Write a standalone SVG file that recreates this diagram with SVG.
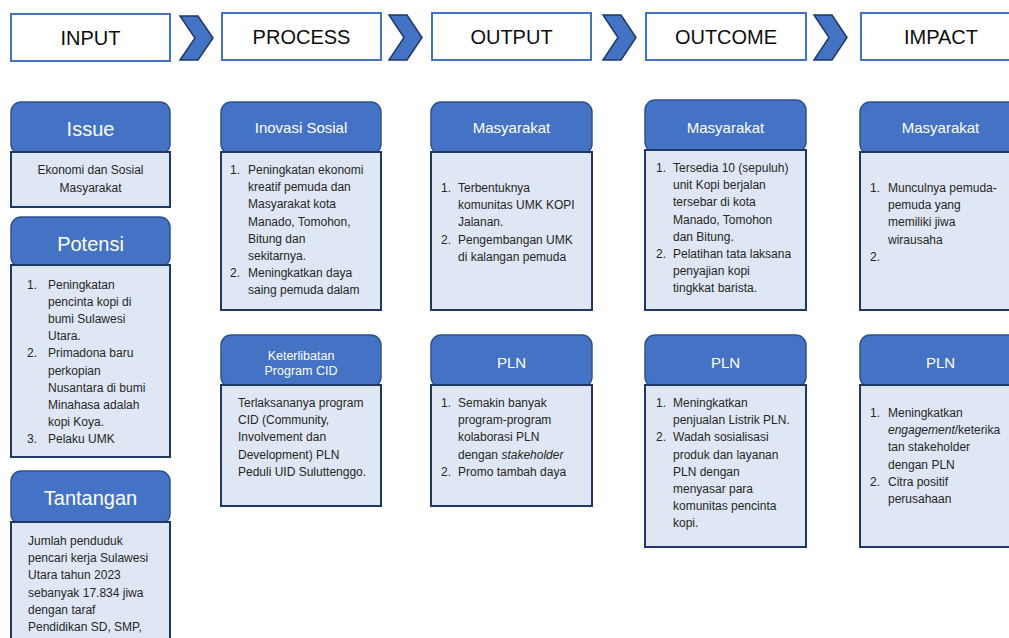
<svg xmlns="http://www.w3.org/2000/svg" width="1009" height="638" viewBox="0 0 1009 638">
<defs>
<style>
.hd{fill:#fff;stroke:#4472C4;stroke-width:2}
.hl{font-family:"Liberation Sans",Arial,sans-serif;font-size:20px;fill:#0d0d0d;text-anchor:middle}
.chev{fill:#4472C4;stroke:#203864;stroke-width:1.5;stroke-linejoin:miter}
.ch{fill:#4472C4;stroke:#2F528F;stroke-width:1.5}
.cb{fill:#DEE7F3;stroke:#1F3864;stroke-width:2}
.ht{font-family:"Liberation Sans",Arial,sans-serif;fill:#fff;text-anchor:middle}
.big{font-size:20px}
.mid{font-size:15px}
.sm{font-size:12.5px}
.t{font-family:"Liberation Sans",Arial,sans-serif;font-size:12px;fill:#262626}
.c{text-anchor:middle}
.i{font-style:italic}
</style>
</defs>
<rect width="1009" height="638" fill="#fff"/>

<g id="stage-input"><rect class="hd" x="11" y="14" width="159" height="47"/><text class="hl" x="90.5" y="45">INPUT</text></g>
<g id="stage-process"><rect class="hd" x="222" y="13" width="159" height="47"/><text class="hl" x="301.5" y="44">PROCESS</text></g>
<g id="stage-output"><rect class="hd" x="432" y="13" width="159" height="47"/><text class="hl" x="511.5" y="44">OUTPUT</text></g>
<g id="stage-outcome"><rect class="hd" x="646" y="13" width="160" height="47"/><text class="hl" x="726" y="44">OUTCOME</text></g>
<g id="stage-impact"><rect class="hd" x="861" y="13" width="160" height="47"/><text class="hl" x="941" y="44">IMPACT</text></g>

<g id="connectors">
<polygon class="chev" points="180,16 198,16 213,38 198,60 180,60 195,38"/>
<polygon class="chev" points="389,15 407,15 422,37.5 407,60 389,60 404,37.5"/>
<polygon class="chev" points="603,15 621,15 636,37.5 621,60 603,60 618,37.5"/>
<polygon class="chev" points="814,15 832,15 847,37.5 832,60 814,60 829,37.5"/>
</g>

<g id="issue">
<rect class="ch" x="11" y="102" width="159" height="52" rx="10"/>
<rect class="cb" x="11" y="152" width="159" height="55"/>
<text class="ht big" x="90.5" y="136">Issue</text>
<text class="t c"><tspan x="90.5" y="174">Ekonomi dan Sosial</tspan><tspan x="90.5" y="192">Masyarakat</tspan></text>
</g>

<g id="potensi">
<rect class="ch" x="11" y="217" width="159" height="50" rx="10"/>
<rect class="cb" x="11" y="265" width="159" height="192"/>
<text class="ht big" x="90.5" y="251">Potensi</text>
<text class="t"><tspan x="27" y="289">1.</tspan><tspan x="48" y="289">Peningkatan</tspan><tspan x="48" y="306.1">pencinta kopi di</tspan><tspan x="48" y="323.2">bumi Sulawesi</tspan><tspan x="48" y="340.3">Utara.</tspan><tspan x="27" y="357.4">2.</tspan><tspan x="48" y="357.4">Primadona baru</tspan><tspan x="48" y="374.5">perkopian</tspan><tspan x="48" y="391.6">Nusantara di bumi</tspan><tspan x="48" y="408.7">Minahasa adalah</tspan><tspan x="48" y="425.8">kopi Koya.</tspan><tspan x="27" y="442.9">3.</tspan><tspan x="48" y="442.9">Pelaku UMK</tspan></text>
</g>

<g id="tantangan">
<rect class="ch" x="11" y="471" width="159" height="53" rx="10"/>
<rect class="cb" x="11" y="522" width="159" height="130"/>
<text class="ht big" x="90.5" y="505">Tantangan</text>
<text class="t"><tspan x="28" y="545">Jumlah penduduk</tspan><tspan x="28" y="562.2">pencari kerja Sulawesi</tspan><tspan x="28" y="579.4">Utara tahun 2023</tspan><tspan x="28" y="596.6">sebanyak 17.834 jiwa</tspan><tspan x="28" y="613.8">dengan taraf</tspan><tspan x="28" y="631">Pendidikan SD, SMP,</tspan></text>
</g>

<g id="inovasi-sosial">
<rect class="ch" x="221" y="102" width="160" height="52" rx="10"/>
<rect class="cb" x="221" y="152" width="160" height="158"/>
<text class="ht mid" x="301" y="133">Inovasi Sosial</text>
<text class="t"><tspan x="230" y="174">1.</tspan><tspan x="248" y="174">Peningkatan ekonomi</tspan><tspan x="248" y="191.2">kreatif pemuda dan</tspan><tspan x="248" y="208.4">Masyarakat kota</tspan><tspan x="248" y="225.6">Manado, Tomohon,</tspan><tspan x="248" y="242.8">Bitung dan</tspan><tspan x="248" y="260">sekitarnya.</tspan><tspan x="230" y="277.2">2.</tspan><tspan x="248" y="277.2">Meningkatkan daya</tspan><tspan x="248" y="294.4">saing pemuda dalam</tspan></text>
</g>

<g id="keterlibatan">
<rect class="ch" x="221" y="335" width="160" height="52" rx="10"/>
<rect class="cb" x="221" y="385" width="160" height="121"/>
<text class="ht sm"><tspan x="301" y="360">Keterlibatan</tspan><tspan x="301" y="375">Program CID</tspan></text>
<text class="t"><tspan x="238" y="407">Terlaksananya program</tspan><tspan x="238" y="424.2">CID (Community,</tspan><tspan x="238" y="441.4">Involvement dan</tspan><tspan x="238" y="458.6">Development) PLN</tspan><tspan x="238" y="475.8">Peduli UID Suluttenggo.</tspan></text>
</g>

<g id="output-masyarakat">
<rect class="ch" x="431" y="102" width="161" height="52" rx="10"/>
<rect class="cb" x="431" y="152" width="161" height="158"/>
<text class="ht mid" x="511.5" y="133">Masyarakat</text>
<text class="t"><tspan x="441" y="192">1.</tspan><tspan x="458" y="192">Terbentuknya</tspan><tspan x="458" y="209.2">komunitas UMK KOPI</tspan><tspan x="458" y="226.4">Jalanan.</tspan><tspan x="441" y="243.6">2.</tspan><tspan x="458" y="243.6">Pengembangan UMK</tspan><tspan x="458" y="260.8">di kalangan pemuda</tspan></text>
</g>

<g id="output-pln">
<rect class="ch" x="431" y="335" width="161" height="52" rx="10"/>
<rect class="cb" x="431" y="385" width="161" height="121"/>
<text class="ht mid" x="511.5" y="367.5">PLN</text>
<text class="t"><tspan x="441" y="407">1.</tspan><tspan x="458" y="407">Semakin banyak</tspan><tspan x="458" y="424.2">program-program</tspan><tspan x="458" y="441.4">kolaborasi PLN</tspan><tspan x="458" y="458.6">dengan </tspan><tspan class="i">stakeholder</tspan><tspan x="441" y="475.8">2.</tspan><tspan x="458" y="475.8">Promo tambah daya</tspan></text>
</g>

<g id="outcome-masyarakat">
<rect class="ch" x="645" y="100" width="161" height="52" rx="10"/>
<rect class="cb" x="645" y="150" width="161" height="160"/>
<text class="ht mid" x="725.5" y="133">Masyarakat</text>
<text class="t"><tspan x="656" y="172">1.</tspan><tspan x="673" y="172">Tersedia 10 (sepuluh)</tspan><tspan x="673" y="189.2">unit Kopi berjalan</tspan><tspan x="673" y="206.4">tersebar di kota</tspan><tspan x="673" y="223.6">Manado, Tomohon</tspan><tspan x="673" y="240.8">dan Bitung.</tspan><tspan x="656" y="258">2.</tspan><tspan x="673" y="258">Pelatihan tata laksana</tspan><tspan x="673" y="275.2">penyajian kopi</tspan><tspan x="673" y="292.4">tingkkat barista.</tspan></text>
</g>

<g id="outcome-pln">
<rect class="ch" x="645" y="335" width="161" height="52" rx="10"/>
<rect class="cb" x="645" y="385" width="161" height="162"/>
<text class="ht mid" x="725.5" y="367.5">PLN</text>
<text class="t"><tspan x="656" y="407">1.</tspan><tspan x="673" y="407">Meningkatkan</tspan><tspan x="673" y="424.2">penjualan Listrik PLN.</tspan><tspan x="656" y="441.4">2.</tspan><tspan x="673" y="441.4">Wadah sosialisasi</tspan><tspan x="673" y="458.6">produk dan layanan</tspan><tspan x="673" y="475.8">PLN dengan</tspan><tspan x="673" y="493">menyasar para</tspan><tspan x="673" y="510.2">komunitas pencinta</tspan><tspan x="673" y="527.4">kopi.</tspan></text>
</g>

<g id="impact-masyarakat">
<rect class="ch" x="860" y="102" width="161" height="52" rx="10"/>
<rect class="cb" x="860" y="152" width="161" height="158"/>
<text class="ht mid" x="940.5" y="133">Masyarakat</text>
<text class="t"><tspan x="870" y="192">1.</tspan><tspan x="888" y="192">Munculnya pemuda-</tspan><tspan x="888" y="209.2">pemuda yang</tspan><tspan x="888" y="226.4">memiliki jiwa</tspan><tspan x="888" y="243.6">wirausaha</tspan><tspan x="870" y="260.8">2.</tspan></text>
</g>

<g id="impact-pln">
<rect class="ch" x="860" y="335" width="161" height="52" rx="10"/>
<rect class="cb" x="860" y="385" width="161" height="162"/>
<text class="ht mid" x="940.5" y="367.5">PLN</text>
<text class="t"><tspan x="870" y="417">1.</tspan><tspan x="888" y="417">Meningkatkan</tspan><tspan x="888" y="434.2" class="i">engagement</tspan><tspan>/keterika</tspan><tspan x="888" y="451.4">tan stakeholder</tspan><tspan x="888" y="468.6">dengan PLN</tspan><tspan x="870" y="485.8">2.</tspan><tspan x="888" y="485.8">Citra positif</tspan><tspan x="888" y="503">perusahaan</tspan></text>
</g>
</svg>
